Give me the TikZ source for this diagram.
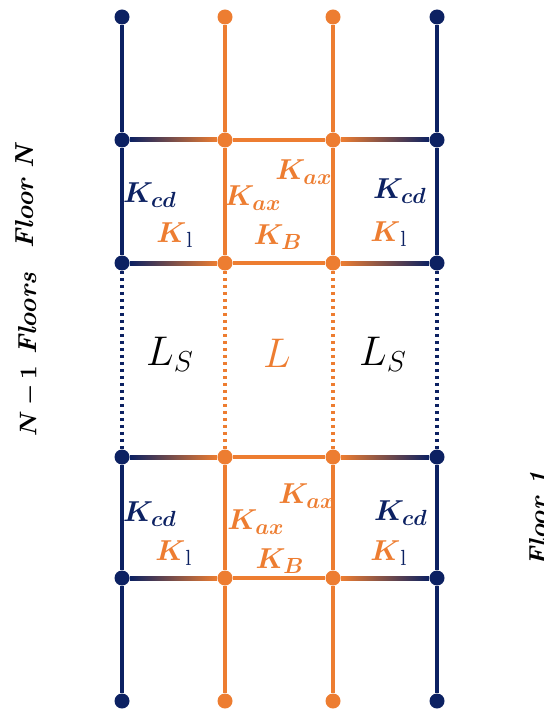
\documentclass[tikz,border=0pt]{standalone}
\usepackage{amsmath,bm}
\usepackage{tikz}
\usetikzlibrary{calc}
\definecolor{navy}{HTML}{0C2162}
\definecolor{orng}{HTML}{ED7D31}

\begin{document}
\begin{tikzpicture}[x=0.5pt,y=-0.5pt]
  \tikzstyle{bdot}=[circle,fill=navy,inner sep=0pt,minimum size=7.5pt]
  \tikzstyle{odot}=[circle,fill=orng,inner sep=0pt,minimum size=7.5pt]
  \tikzstyle{bcol}=[draw=navy,line width=2.2pt]
  \tikzstyle{ocol}=[draw=orng,line width=2.2pt]
  \tikzstyle{gap}=[line width=2.2pt,dash pattern=on 1.7pt off 1.8pt]
  \tikzstyle{klabel}=[inner sep=1pt,font=\fontsize{15}{17}\selectfont]
  \tikzstyle{llabel}=[inner sep=1pt,font=\fontsize{20}{22}\selectfont]
  \tikzstyle{floorlabel}=[rotate=90,inner sep=1pt,font=\fontsize{13}{15}\selectfont\bfseries\itshape]

  \useasboundingbox (0,0) rectangle (544,711);

  % column nodes, left to right
  \node[bdot] (c1t) at (122,17) {};
  \node[bdot] (c1a) at (122,140) {};
  \node[bdot] (c1b) at (122,263) {};
  \node[bdot] (c1c) at (122,457) {};
  \node[bdot] (c1d) at (122,578) {};
  \node[bdot] (c1u) at (122,701) {};

  \node[odot] (c2t) at (225,17) {};
  \node[odot] (c2a) at (225,140) {};
  \node[odot] (c2b) at (225,263) {};
  \node[odot] (c2c) at (225,457) {};
  \node[odot] (c2d) at (225,578) {};
  \node[odot] (c2u) at (225,701) {};

  \node[odot] (c3t) at (333,17) {};
  \node[odot] (c3a) at (333,140) {};
  \node[odot] (c3b) at (333,263) {};
  \node[odot] (c3c) at (333,457) {};
  \node[odot] (c3d) at (333,578) {};
  \node[odot] (c3u) at (333,701) {};

  \node[bdot] (c4t) at (437,17) {};
  \node[bdot] (c4a) at (437,140) {};
  \node[bdot] (c4b) at (437,263) {};
  \node[bdot] (c4c) at (437,457) {};
  \node[bdot] (c4d) at (437,578) {};
  \node[bdot] (c4u) at (437,701) {};

  % columns
  \draw[bcol] (c1t) -- (c1a) -- (c1b);
  \draw[bcol,gap] (c1b) -- (c1c);
  \draw[bcol] (c1c) -- (c1d) -- (c1u);
  \draw[ocol] (c2t) -- (c2a) -- (c2b);
  \draw[ocol,gap] (c2b) -- (c2c);
  \draw[ocol] (c2c) -- (c2d) -- (c2u);
  \draw[ocol] (c3t) -- (c3a) -- (c3b);
  \draw[ocol,gap] (c3b) -- (c3c);
  \draw[ocol] (c3c) -- (c3d) -- (c3u);
  \draw[bcol] (c4t) -- (c4a) -- (c4b);
  \draw[bcol,gap] (c4b) -- (c4c);
  \draw[bcol] (c4c) -- (c4d) -- (c4u);

  % beams
  \shade[left color=navy,right color=orng] ($(c1a.east)+(0,-2)$) rectangle ($(c2a.west)+(0,2)$);
  \shade[left color=navy,right color=orng] ($(c1b.east)+(0,-2)$) rectangle ($(c2b.west)+(0,2)$);
  \shade[left color=navy,right color=orng] ($(c1c.east)+(0,-2)$) rectangle ($(c2c.west)+(0,2)$);
  \shade[left color=navy,right color=orng] ($(c1d.east)+(0,-2)$) rectangle ($(c2d.west)+(0,2)$);
  \draw[ocol,line width=2pt] (c2a) -- (c3a);
  \draw[ocol,line width=2pt] (c2b) -- (c3b);
  \draw[ocol,line width=2pt] (c2c) -- (c3c);
  \draw[ocol,line width=2pt] (c2d) -- (c3d);
  \shade[left color=orng,right color=navy] ($(c3a.east)+(0,-2)$) rectangle ($(c4a.west)+(0,2)$);
  \shade[left color=orng,right color=navy] ($(c3b.east)+(0,-2)$) rectangle ($(c4b.west)+(0,2)$);
  \shade[left color=orng,right color=navy] ($(c3c.east)+(0,-2)$) rectangle ($(c4c.west)+(0,2)$);
  \shade[left color=orng,right color=navy] ($(c3d.east)+(0,-2)$) rectangle ($(c4d.west)+(0,2)$);

  % floor N
  \node[klabel,text=navy] (kcdNl) at (150,195) {$\bm{K_{cd}}$};
  \node[klabel] (klNl) at (175,235) {$\textcolor{orng}{\bm{K}}_{\textcolor{navy}{\mathrm{l}}}$};
  \node[klabel,text=orng] (kaxNl) at (253,198) {$\bm{K_{ax}}$};
  \node[klabel,text=orng] (kaxNr) at (304,172) {$\bm{K_{ax}}$};
  \node[klabel,text=orng] (kbN) at (278,237) {$\bm{K_{B}}$};
  \node[klabel,text=navy] (kcdNr) at (400,191) {$\bm{K_{cd}}$};
  \node[klabel] (klNr) at (389,234) {$\textcolor{orng}{\bm{K}}_{\textcolor{navy}{\mathrm{l}}}$};

  % intermediate floors
  \node[llabel] (lsl) at (170,354) {$L_S$};
  \node[llabel,text=orng] (lmid) at (277,353) {$L$};
  \node[llabel] (lsr) at (383,354) {$L_S$};

  % floor 1
  \node[klabel,text=navy] (kcd1l) at (150,514) {$\bm{K_{cd}}$};
  \node[klabel] (kl1l) at (174,553) {$\textcolor{orng}{\bm{K}}_{\textcolor{navy}{\mathrm{l}}}$};
  \node[klabel,text=orng] (kax1l) at (256,522) {$\bm{K_{ax}}$};
  \node[klabel,text=orng] (kax1r) at (307,496) {$\bm{K_{ax}}$};
  \node[klabel,text=orng] (kb1) at (280,561) {$\bm{K_{B}}$};
  \node[klabel,text=navy] (kcd11r) at (401,513) {$\bm{K_{cd}}$};
  \node[klabel] (kl1r) at (389,553) {$\textcolor{orng}{\bm{K}}_{\textcolor{navy}{\mathrm{l}}}$};

  \node[floorlabel] (floorN) at (25,197) {Floor N};
  \node[floorlabel] (floormid) at (29,355) {$\bm{N-1}$ Floors};
  \node[floorlabel] (floor1) at (539,519) {Floor 1};
\end{tikzpicture}
\end{document}
